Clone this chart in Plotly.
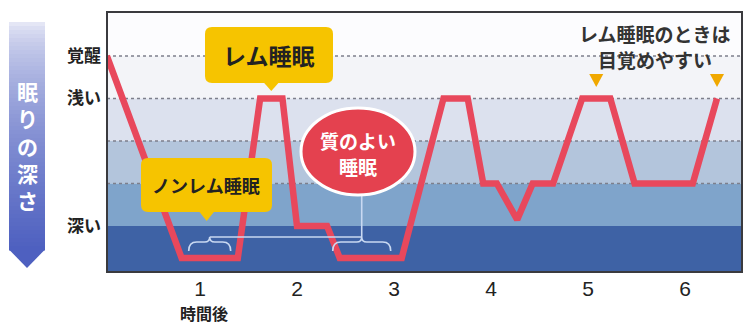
import plotly.graph_objects as go

# ---------------- data ----------------
hours = [0.04, 0.81, 1.39, 1.62, 1.85, 2.00, 2.31, 2.44, 3.08, 3.51, 3.76,
         3.92, 4.06, 4.27, 4.43, 4.64, 4.94, 5.23, 5.48, 6.08, 6.33]
depth = [0, 4.75, 4.75, 1, 1, 4, 4, 4.75, 4.75, 1, 1,
         3, 3, 3.85, 3, 3, 1, 1, 3, 3, 1]
x_ticks = [1, 2, 3, 4, 5, 6]
x_labels = ["1", "2", "3", "4", "5", "6"]
y_ticks = [0, 1, 4]
y_labels = ["覚醒", "浅い", "深い"]
band_edges = [-1.1, 0, 1, 2, 3, 4, 5.2]
band_colors = ["#fcfcfe", "#f3f4f8", "#dce1ee", "#b3c5dc", "#7fa4cb", "#3e62a5"]
dotted_levels = [0, 1, 2, 3]
deep_plateaus = [(0.81, 1.39), (2.44, 3.08)]   # good-sleep plateaus
rem_peaks = [(1.62, 1.85), (4.94, 5.23), (6.33, 6.33)]

# ---------------- geometry ----------------
W, H = 744, 325
ML, MR, MT, MB = 107, 2, 12, 53
PW, PH = W - ML - MR, H - MT - MB
X0PX, XS = 103.0, 97.0      # px of hour 0, px per hour
Y0PX, YS = 56.0, 42.5       # px of depth 0, px per depth unit
XR = [(ML - X0PX) / XS, (W - MR - X0PX) / XS]
YR = [(H - MB - Y0PX) / YS, (MT - Y0PX) / YS]


def dx(h):
    return X0PX + XS * h


def PX(px):
    return (px - ML) / PW


def PY(py):
    return (H - MB - py) / PH


def pt(x, y):
    return f"{PX(x):.5f},{PY(y):.5f}"


def path(cmds):
    out = []
    for c in cmds:
        if c == "Z":
            out.append("Z")
        else:
            op, *pts = c
            out.append(op + " " + " ".join(pt(*p) for p in pts))
    return " ".join(out)


def rrect(x0, y0, x1, y1, r):
    return path([("M", (x0 + r, y0)), ("L", (x1 - r, y0)), ("Q", (x1, y0), (x1, y0 + r)),
                 ("L", (x1, y1 - r)), ("Q", (x1, y1), (x1 - r, y1)), ("L", (x0 + r, y1)),
                 ("Q", (x0, y1), (x0, y1 - r)), ("L", (x0, y0 + r)), ("Q", (x0, y0), (x0 + r, y0)), "Z"])


shapes = []
# bands
for i, c in enumerate(band_colors):
    shapes.append(dict(type="rect", xref="paper", yref="y", x0=0, x1=1,
                       y0=band_edges[i], y1=band_edges[i + 1], fillcolor=c,
                       line=dict(width=0), layer="below"))
for lv in dotted_levels:
    shapes.append(dict(type="line", xref="paper", yref="y", x0=0, x1=1, y0=lv, y1=lv,
                       line=dict(color="#7d7f8c", width=1.6, dash="dot"), layer="below"))

# left banner with gradient
bx0, bx1, btop, bshoulder, btip = 9, 45, 22, 250, 268
N = 57
top_c = (238, 239, 249)
bot_c = (78, 96, 192)
for i in range(N):
    t = (i + 0.5) / N
    tt = t ** 0.6
    col = tuple(int(top_c[k] + (bot_c[k] - top_c[k]) * tt) for k in range(3))
    y0 = btop + (bshoulder - btop) * i / N
    y1 = btop + (bshoulder - btop) * (i + 1) / N + 0.6
    shapes.append(dict(type="rect", xref="paper", yref="paper", x0=PX(bx0), x1=PX(bx1),
                       y0=PY(y1), y1=PY(y0), fillcolor="rgb(%d,%d,%d)" % col,
                       line=dict(width=0), layer="above"))
shapes.append(dict(type="path", xref="paper", yref="paper",
                   path=path([("M", (bx0, bshoulder - 0.5)), ("L", (bx1, bshoulder - 0.5)),
                              ("L", ((bx0 + bx1) / 2, btip)), "Z"]),
                   fillcolor="rgb(%d,%d,%d)" % bot_c, line=dict(width=0)))

# frame
shapes.append(dict(type="rect", xref="paper", yref="paper", x0=0, x1=1, y0=0, y1=1,
                   line=dict(color="#3a3a3e", width=2), layer="above"))

YEL = "#f6c400"
# REM callout box
rem_cx = dx(sum(rem_peaks[0]) / 2)
shapes.append(dict(type="path", xref="paper", yref="paper", path=rrect(205, 27, 333, 83, 7),
                   fillcolor=YEL, line=dict(width=0)))
shapes.append(dict(type="path", xref="paper", yref="paper",
                   path=path([("M", (rem_cx - 8, 82)), ("L", (rem_cx + 8, 82)),
                              ("L", (rem_cx, 91)), "Z"]), fillcolor=YEL, line=dict(width=0)))
# Non-REM callout box
nr_cx = dx(sum(deep_plateaus[0]) / 2) - 3
shapes.append(dict(type="path", xref="paper", yref="paper", path=rrect(141, 158, 272, 212, 7),
                   fillcolor=YEL, line=dict(width=0)))
shapes.append(dict(type="path", xref="paper", yref="paper",
                   path=path([("M", (nr_cx - 8, 211)), ("L", (nr_cx + 8, 211)),
                              ("L", (nr_cx, 221)), "Z"]), fillcolor=YEL, line=dict(width=0)))

# good-sleep connector + braces
BR = "#c9d9f2"
brace_half = [21, 29]
centers = [dx(sum(p) / 2) for p in deep_plateaus]
centers[1] -= 9
yh, yb, yend = 237, 242, 251
for c, hw in zip(centers, brace_half):
    shapes.append(dict(type="path", xref="paper", yref="paper",
                       path=path([("M", (c - hw, yend)), ("Q", (c - hw, yb), (c - hw + 8, yb)),
                                  ("L", (c - 5, yb)), ("Q", (c, yb), (c, yh)),
                                  ("Q", (c, yb), (c + 5, yb)), ("L", (c + hw - 8, yb)),
                                  ("Q", (c + hw, yb), (c + hw, yend))]),
                       line=dict(color=BR, width=1.6)))
shapes.append(dict(type="line", xref="paper", yref="paper", x0=PX(centers[0]), x1=PX(centers[1]),
                   y0=PY(yh), y1=PY(yh), line=dict(color=BR, width=1.6)))
shapes.append(dict(type="line", xref="paper", yref="paper", x0=PX(centers[1]), x1=PX(centers[1]),
                   y0=PY(yh), y1=PY(192), line=dict(color=BR, width=1.6)))
# ellipse
shapes.append(dict(type="circle", xref="paper", yref="paper", x0=PX(301), x1=PX(415),
                   y0=PY(195), y1=PY(108), fillcolor="#e4414f",
                   line=dict(color="white", width=3)))

# orange markers above REM peaks (wake-up points)
for a, b in rem_peaks[1:]:
    c = dx((a + b) / 2)
    shapes.append(dict(type="path", xref="paper", yref="paper",
                       path=path([("M", (c - 7, 74)), ("L", (c + 7, 74)), ("L", (c, 87)), "Z"]),
                       fillcolor="#f0a800", line=dict(width=0)))

JP = "Noto Sans CJK JP"


def ann(text, x, y, size, color="#222222", weight=700, xanchor="center"):
    return dict(text=text, xref="paper", yref="paper", x=PX(x), y=PY(y), showarrow=False,
                xanchor=xanchor, yanchor="middle",
                font=dict(family=JP, size=size, color=color, weight=weight))


annotations = [
    ann("レム睡眠", 269, 55, 23),
    ann("ノンレム睡眠", 206, 185, 18),
    ann("質のよい", 358, 140, 19, color="white"),
    ann("睡眠", 358, 166, 19, color="white"),
    ann("レム睡眠のときは", 655, 33, 19, color="#333333"),
    ann("目覚めやすい", 655, 59, 19, color="#333333"),
    ann("時間後", 204, 313, 16),
    ann("眠<br>り<br>の<br>深<br>さ", 27, 145, 21, color="white"),
]

fig = go.Figure()
fig.add_trace(go.Scatter(x=hours, y=depth, mode="lines",
                         line=dict(color="#e8485c", width=6.5), hoverinfo="skip"))

fig.update_layout(
    width=W, height=H, margin=dict(l=ML, r=MR, t=MT, b=MB),
    paper_bgcolor="white", plot_bgcolor="white", showlegend=False,
    shapes=shapes, annotations=annotations,
    xaxis=dict(range=XR, tickvals=x_ticks, ticktext=x_labels, showgrid=False,
               zeroline=False, showline=False, ticks="", ticklabelstandoff=2,
               tickfont=dict(family="Liberation Sans Narrow, Liberation Sans, Arial", size=21,
                             color="#222222")),
    yaxis=dict(range=YR, tickvals=y_ticks, ticktext=y_labels, showgrid=False,
               zeroline=False, showline=False, ticks="", ticklabelstandoff=5,
               tickfont=dict(family=JP, size=17, color="#222222", weight=700)),
)
fig.write_html("out.html")
